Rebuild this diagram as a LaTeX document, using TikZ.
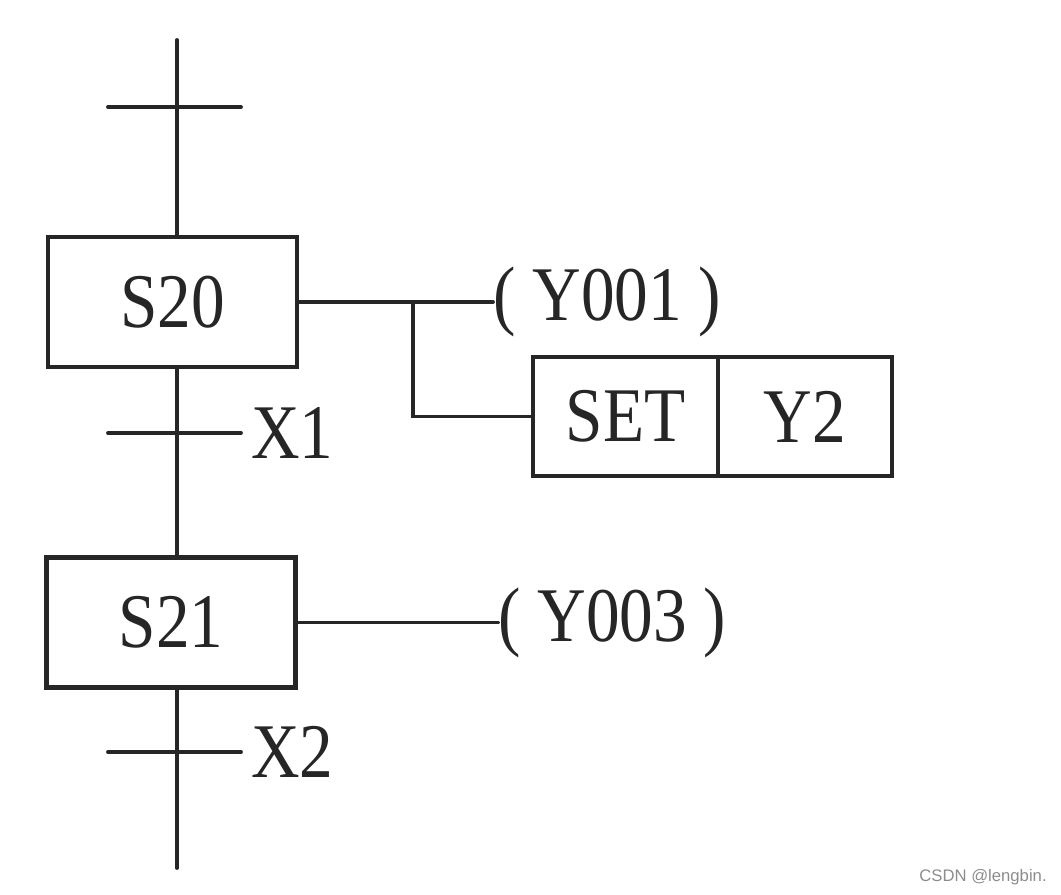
\documentclass[tikz,border=0pt]{standalone}
\usepackage{fontspec}
\setmainfont{Liberation Serif}
\newfontfamily\plcfont[FakeStretch=0.87]{Liberation Serif}
\newfontfamily\markfont{Liberation Sans}
\usetikzlibrary{positioning}

\begin{document}
\begin{tikzpicture}[
    wire/.style={line width=2.2pt, black!85, line cap=round},
    plctext/.style={font=\plcfont\fontsize{44}{48}\selectfont, text=black!85},
    stepbox/.style={plctext, draw=black!85, line width=2.6pt, outer sep=0pt,
                    minimum width=4.98cm, minimum height=2.6cm},
    cmdbox/.style={plctext, draw=black!85, line width=2.6pt, outer sep=0pt,
                   minimum height=2.38cm},
    coil/.style={plctext, anchor=west, inner sep=0pt},
    cond/.style={plctext, anchor=west, inner sep=0pt, xshift=0.2cm}
  ]
  \useasboundingbox (0,0) rectangle (21.22,-17.9);

  % steps
  \node[stepbox] (s20) at (3.45,-6.04) {S20};
  \node[stepbox] (s21) at (3.42,-12.45) {S21};

  % spine ends and transitions
  \coordinate (top) at (3.54,-0.8);
  \coordinate (bottom) at (3.54,-17.36);
  \coordinate (t0l) at (2.16,-2.14);  \coordinate (t0r) at (4.82,-2.14);
  \coordinate (t1l) at (2.16,-8.66);  \coordinate (t1r) at (4.82,-8.66);
  \coordinate (t2l) at (2.16,-15.04); \coordinate (t2r) at (4.82,-15.04);

  \draw[wire] (top) -- (s20.north -| top);
  \draw[wire] (s20.south -| top) -- (s21.north -| top);
  \draw[wire] (s21.south -| top) -- (bottom);
  \draw[wire] (t0l) -- (t0r);
  \draw[wire] (t1l) -- (t1r);
  \draw[wire] (t2l) -- (t2r);

  \node[cond] (x1) at (t1r) {X1};
  \node[cond] (x2) at (t2r) {X2};

  % outputs of S20
  \node[coil] (y001) at (9.86,-6.04) {( Y001 )};
  \node[cmdbox, minimum width=3.7cm] (setcmd) at (12.51,-8.33) {SET};
  \node[cmdbox, minimum width=3.48cm, right=0pt of setcmd] (y2) {Y2};
  \coordinate (fork) at (8.26,-6.04);

  \draw[wire] (s20.east) -- (y001.west |- s20.east);
  \draw[wire] (fork) |- (setcmd.west);

  % output of S21
  \node[coil] (y003) at (9.96,-12.45) {( Y003 )};
  \draw[wire] (s21.east) -- (y003.west |- s21.east);

  \node[font=\markfont\fontsize{9.5}{11}\selectfont, text=black!45] (mark)
       at (19.66,-17.54) {CSDN @lengbin.};
\end{tikzpicture}
\end{document}
